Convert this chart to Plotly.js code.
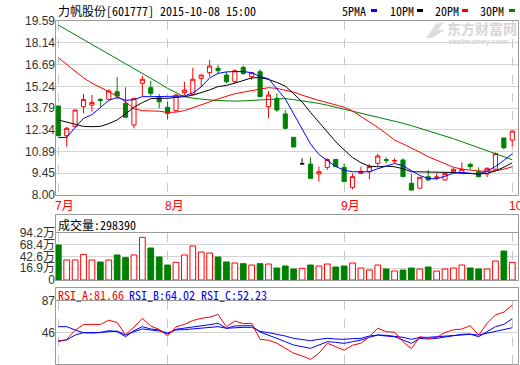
<!DOCTYPE html>
<html>
<head>
<meta charset="utf-8">
<script src="https://cdn.plot.ly/plotly-3.0.1.min.js"></script>
<style>
html,body{margin:0;padding:0;background:#fff;}
#chart{width:520px;height:365px;}
</style>
</head>
<body>
<div id="chart"></div>
<script>
// ---------------- data ----------------
const titleText = '力帆股份[601777] 2015-10-08 15:00';
const monthLabels = ['7月', '8月', '9月', '10月'];
const monthStartIdx = [0, 13, 34, 54];

const open  = [13.93,11.95,12.55,13.88,13.99,14.36,14.37,14.88,14.11,12.66,15.44,15.15,14.48,13.84,13.62,14.81,14.71,15.77,16.15,16.44,15.99,15.55,16.50,15.88,16.21,13.88,14.44,13.40,11.84,10.08,10.06,9.40,9.84,10.37,9.84,8.51,9.44,9.55,10.11,10.36,10.26,10.33,8.78,8.45,9.22,9.16,9.00,9.55,9.49,10.04,9.55,9.40,9.72,11.80,11.65];
const high  = [13.93,12.55,13.70,14.73,14.66,14.46,15.04,15.84,15.17,14.44,15.93,15.61,14.73,14.21,14.73,15.55,16.48,16.03,16.99,16.66,16.21,16.37,16.62,16.21,16.37,14.93,14.77,13.66,11.84,10.44,10.51,9.89,10.44,10.37,10.11,9.44,9.89,10.06,10.73,10.51,10.44,10.44,9.40,9.18,9.67,9.44,9.49,9.80,10.18,10.15,9.84,9.84,10.84,11.80,12.26];
const low   = [11.95,11.22,12.50,13.44,13.55,13.88,14.37,14.37,13.18,12.44,14.59,14.59,13.77,13.04,13.55,14.66,14.66,15.21,15.88,16.06,15.44,15.44,16.00,15.66,14.55,13.11,13.55,12.38,11.20,10.08,9.11,8.89,9.67,9.89,8.89,8.38,9.40,9.04,9.93,10.11,10.11,9.22,8.29,8.45,8.95,9.00,8.98,9.44,9.44,9.71,9.18,9.18,9.68,11.04,11.22];
const close = [11.95,12.44,13.66,14.37,14.17,14.30,14.93,14.59,13.18,14.44,15.71,14.77,14.21,13.44,14.66,14.99,15.71,15.99,16.59,16.28,15.55,16.28,16.10,16.15,14.55,14.66,13.66,12.44,11.20,10.08,9.11,9.55,10.37,9.89,8.89,9.22,9.55,9.89,10.60,10.31,10.30,9.22,8.33,9.18,9.00,9.20,9.44,9.71,9.71,9.89,9.22,9.78,10.76,11.15,12.26];

const ma5  = [11.82,11.84,12.50,13.10,13.35,13.85,14.30,14.50,14.30,14.35,14.55,14.55,14.55,14.55,14.58,14.60,14.80,15.20,15.80,16.10,16.20,16.22,16.22,16.15,15.88,15.75,15.10,14.40,13.40,12.40,11.40,10.70,10.30,9.90,9.65,9.55,9.55,9.55,9.75,9.95,10.10,9.95,9.62,9.30,9.10,9.08,9.25,9.45,9.50,9.45,9.40,9.60,9.90,10.30,10.75];
const ma10 = [13.00,12.85,12.68,12.57,12.55,12.57,12.75,13.00,13.40,13.85,14.15,14.42,14.44,14.44,14.50,14.55,14.65,14.80,15.00,15.22,15.30,15.45,15.65,15.80,15.82,15.70,15.50,15.25,14.75,14.20,13.50,12.85,12.25,11.55,11.00,10.50,10.15,9.92,9.88,9.92,9.88,9.75,9.55,9.55,9.55,9.55,9.52,9.50,9.45,9.40,9.40,9.45,9.60,9.85,10.15];
const ma20 = [17.15,16.70,16.25,15.80,15.45,15.15,14.90,14.60,14.20,13.75,13.62,13.60,13.58,13.50,13.52,13.62,13.80,13.98,14.20,14.40,14.60,14.75,14.85,14.95,15.05,15.15,15.10,15.00,14.85,14.65,14.45,14.30,14.15,14.00,13.85,13.60,13.25,12.90,12.50,12.10,11.66,11.40,11.15,10.85,10.55,10.30,10.05,9.85,9.72,9.65,9.60,9.58,9.62,9.72,9.88];
const ma30 = [19.32,19.00,18.68,18.36,18.04,17.72,17.40,17.08,16.76,16.44,16.12,15.80,15.45,15.10,14.80,14.55,14.45,14.38,14.33,14.30,14.25,14.25,14.27,14.30,14.33,14.38,14.42,14.42,14.35,14.28,14.20,14.10,13.98,13.85,13.72,13.60,13.45,13.30,13.17,13.03,12.90,12.78,12.62,12.45,12.30,12.12,11.95,11.75,11.55,11.35,11.15,10.95,10.75,10.55,10.35];

// volume in 万
const volume = [67.9,35.0,35.0,47.4,35.0,30.6,35.0,46.0,40.1,46.0,84.7,61.3,41.6,24.0,29.9,46.0,65.7,52.5,50.3,41.6,30.6,28.4,26.9,24.0,26.9,26.2,17.4,21.8,15.2,16.7,24.0,21.8,26.2,19.6,21.8,28.4,17.4,13.0,24.0,15.2,10.8,13.0,17.4,15.2,19.6,10.8,15.2,17.4,24.0,17.4,15.2,15.2,32.8,54.7,29.839];
const volHeader = '成交量:298390';

const rsiA = [34,37,49,56.5,56.5,56.5,62,59,43,53,64.5,54.5,50,41.5,53.5,56.5,61.5,64.5,66,69.5,53.5,61,57.5,58,37,36,32,25,19,15.5,11,19,32,27.5,23,29.5,32,40.5,51.5,47,46.5,34,25,40.5,38.5,39.5,46,49.5,50.5,55,42.5,58,69,72.5,81.66];
const rsiB = [35.3,36.2,42.7,45.8,45.8,45.8,48.4,47,40.5,48.4,53.6,50.6,49.3,44,50.2,51.5,53.6,54.9,56.2,58,51.5,54.5,54.9,54.9,46.5,42.7,38.4,34,29.7,27.5,25.4,29.7,34,33.2,31.9,34,36.2,39.7,42.7,41.4,40.5,36.2,31.9,38.4,37.5,38.4,40.5,41.8,43.6,44,40.5,47,53.6,56.6,64.02];
const rsiC = [53.6,53.6,49.3,45.8,45.4,45.8,47,47.9,42.7,47,50.6,49.3,47.9,45.4,49.3,49.7,50.6,51.5,52.7,53.6,51.5,52.3,52.7,52.7,47.5,45.8,44,41.4,38.4,37.1,35.3,37.1,38.4,37.5,37.1,38,38.4,41.4,42.7,42.3,41.4,39.7,37.1,39.7,39.7,40.5,41.4,41.8,42.7,43.6,42.7,44.9,47,49.3,52.23];
const rsiLabels = ['RSI_A:81.66', 'RSI_B:64.02', 'RSI_C:52.23'];

const priceTicks = [8.00, 9.45, 10.89, 12.34, 13.79, 15.24, 16.69, 18.14, 19.59];
const priceTickText = ['8.00','9.45','10.89','12.34','13.79','15.24','16.69','18.14','19.59'];
const volTicks = [16.9, 42.6, 68.4, 94.2];
const volTickText = ['16.9万','42.6万','68.4万','94.2万'];
const rsiTicks = [46, 87];
const maNames = ['5PMA', '10PM', '20PM', '30PM'];

// ---------------- layout constants ----------------
const W = 520, H = 365;
const VOL_MIN = -8.9, VOL_MAX = 94.2;
const RSI_MIN = 5, RSI_MAX = 87;
const PLOT_L = 56, PLOT_R = 519;
const PX_PER_IDX = 8.407, FIRST_X = 58.3;
const xr = [(PLOT_L - FIRST_X) / PX_PER_IDX, (PLOT_R - FIRST_X) / PX_PER_IDX];
const px = v => v / W;
const py = v => 1 - v / H;

const RED = '#ff0000', GREEN = '#008000', BLUE = '#0000ff', BLACK = '#000000';
const MONO = '"Noto Sans Mono CJK SC", "Noto Sans CJK SC", "DejaVu Sans Mono", monospace';
const SANS = '"Liberation Sans", Arial, "Noto Sans CJK SC", sans-serif';

const idx = close.map((_, i) => i);
const isFlat = close.map((c, i) => c === open[i]);
const isUp = close.map((c, i) => c >= open[i]);
const nz = (arr) => arr.map((v, i) => isFlat[i] ? null : v);
const fz = (arr) => arr.map((v, i) => isFlat[i] ? v : null);

const traces = [];
traces.push({
  type: 'candlestick', x: idx, open: nz(open), high: nz(high), low: nz(low), close: nz(close),
  xaxis: 'x', yaxis: 'y', whiskerwidth: 0,
  increasing: {line: {color: RED, width: 1}, fillcolor: '#ffffff'},
  decreasing: {line: {color: GREEN, width: 1}, fillcolor: GREEN},
  hoverinfo: 'skip'
});
traces.push({
  type: 'candlestick', x: idx, open: fz(open), high: fz(high), low: fz(low), close: fz(close),
  xaxis: 'x', yaxis: 'y', whiskerwidth: 0,
  increasing: {line: {color: BLACK, width: 1}, fillcolor: BLACK},
  decreasing: {line: {color: BLACK, width: 1}, fillcolor: BLACK},
  hoverinfo: 'skip'
});
[[ma30, GREEN], [ma20, RED], [ma10, BLACK], [ma5, BLUE]].forEach(([arr, col]) => {
  traces.push({type: 'scatter', mode: 'lines', x: idx, y: arr, xaxis: 'x', yaxis: 'y',
    line: {color: col, width: 1}, hoverinfo: 'skip'});
});
traces.push({
  type: 'bar', x: idx, y: volume.map(v => v - VOL_MIN), base: VOL_MIN, width: 0.68,
  xaxis: 'x2', yaxis: 'y2',
  marker: {color: isUp.map(u => u ? '#ffffff' : GREEN),
           line: {color: isUp.map(u => u ? RED : GREEN), width: 1}},
  hoverinfo: 'skip'
});
[[rsiC, BLUE], [rsiB, BLUE], [rsiA, RED]].forEach(([arr, col]) => {
  traces.push({type: 'scatter', mode: 'lines', x: idx, y: arr, xaxis: 'x3', yaxis: 'y3',
    line: {color: col, width: 1}, hoverinfo: 'skip'});
});

const xBase = {
  domain: [px(PLOT_L), px(PLOT_R)], range: xr, tickvals: monthStartIdx, showticklabels: false,
  ticks: '', showgrid: true, gridcolor: '#c8c8c8', griddash: 'dash', gridwidth: 1,
  zeroline: false, showline: false, fixedrange: true, rangeslider: {visible: false}
};
const yBase = {
  ticks: '', showgrid: true, gridcolor: '#d4d4d4', gridwidth: 1, zeroline: false, showline: false,
  fixedrange: true, tickfont: {family: SANS, size: 12, color: '#333333'}, tickmode: 'array'
};

const shapes = [];
const rect = (x0, y0, x1, y1, col) => shapes.push({type: 'rect', xref: 'paper', yref: 'paper',
  x0: px(x0), x1: px(x1), y0: py(y1), y1: py(y0), line: {color: col, width: 1}, fillcolor: 'rgba(0,0,0,0)'});
const hline = (x0, x1, y, col) => shapes.push({type: 'line', xref: 'paper', yref: 'paper',
  x0: px(x0), x1: px(x1), y0: py(y), y1: py(y), line: {color: col, width: 1}});
rect(55.5, 20.5, 518.5, 195.5, '#999999');
rect(55.5, 214.5, 518.5, 280.5, '#999999');
hline(55.5, 518.5, 232.5, '#999999');
rect(55.5, 287.5, 518.5, 364.5, '#999999');
hline(55.5, 518.5, 300.5, '#999999');

// legend colour dashes
const legendCols = [BLUE, BLACK, RED, GREEN];
const legendTextX = [340, 388, 433, 478];
const legendDashX = [371, 417, 462, 509];
legendCols.forEach((c, k) => shapes.push({type: 'rect', xref: 'paper', yref: 'paper',
  x0: px(legendDashX[k]), x1: px(legendDashX[k] + 6), y0: py(12), y1: py(9),
  line: {width: 0}, fillcolor: c}));

// watermark logo (light grey swoosh)
shapes.push({type: 'path', xref: 'paper', yref: 'paper', line: {width: 0}, fillcolor: '#dcdcdc',
  path: 'M ' + px(426) + ' ' + py(38) + ' L ' + px(436) + ' ' + py(24) + ' L ' + px(444) + ' ' + py(22) +
        ' L ' + px(438) + ' ' + py(30) + ' L ' + px(445) + ' ' + py(30) + ' L ' + px(432) + ' ' + py(38) + ' Z'});

const annotations = [];
const txt = (text, x, y, color, size, family, extra) => annotations.push(Object.assign({
  text: text, xref: 'paper', yref: 'paper', x: px(x), y: py(y), xanchor: 'left', yanchor: 'middle',
  showarrow: false, font: {family: family || MONO, size: size || 12, color: color || '#000'}
}, extra || {}));
txt(titleText, 56, 10, '#000');
maNames.forEach((n, k) => txt(n, legendTextX[k], 10, '#000'));
txt(volHeader, 56, 224, '#000');
txt(rsiLabels[0], 56, 294, RED);
txt(rsiLabels[1], 127, 294, BLUE);
txt(rsiLabels[2], 199, 294, BLUE);
// watermark
txt('东方财富网', 446, 28, '#d6d6d6', 14, null,
  {font: {family: '"Noto Sans CJK SC", sans-serif', size: 14, color: '#d6d6d6', weight: 'bold'}, borderpad: 0});
txt('eastmoney.com', 447, 42, '#d6d6d6', 8, null,
  {font: {family: SANS, size: 8, color: '#d6d6d6', weight: 'bold'}, borderpad: 0});
// month labels
monthLabels.forEach((m, k) => annotations.push({
  text: m, xref: 'x', yref: 'paper', x: monthStartIdx[k], y: py(206), xanchor: 'left', yanchor: 'middle',
  xshift: -5, showarrow: false, font: {family: SANS, size: 12, color: RED}
}));

const layout = {
  width: W, height: H, margin: {l: 0, r: 0, t: 0, b: 0},
  paper_bgcolor: '#ffffff', plot_bgcolor: '#ffffff', showlegend: false,
  font: {family: SANS, size: 12, color: '#333'},
  hovermode: false, dragmode: false,
  xaxis: Object.assign({}, xBase, {anchor: 'y'}),
  xaxis2: Object.assign({}, xBase, {anchor: 'y2'}),
  xaxis3: Object.assign({}, xBase, {anchor: 'y3'}),
  yaxis: Object.assign({}, yBase, {anchor: 'x', domain: [py(195), py(21)], range: [8, 19.59],
    tickvals: priceTicks, ticktext: priceTickText}),
  yaxis2: Object.assign({}, yBase, {anchor: 'x2', domain: [py(280), py(233)], range: [VOL_MIN, VOL_MAX],
    tickvals: [VOL_MIN].concat(volTicks), ticktext: ['0'].concat(volTickText)}),
  yaxis3: Object.assign({}, yBase, {anchor: 'x3', domain: [py(364), py(301)], range: [RSI_MIN, RSI_MAX],
    tickvals: [RSI_MIN].concat(rsiTicks), ticktext: ['0'].concat(rsiTicks.map(String))}),
  shapes: shapes, annotations: annotations
};

Plotly.newPlot('chart', traces, layout, {staticPlot: true, displayModeBar: false});
</script>
</body>
</html>
